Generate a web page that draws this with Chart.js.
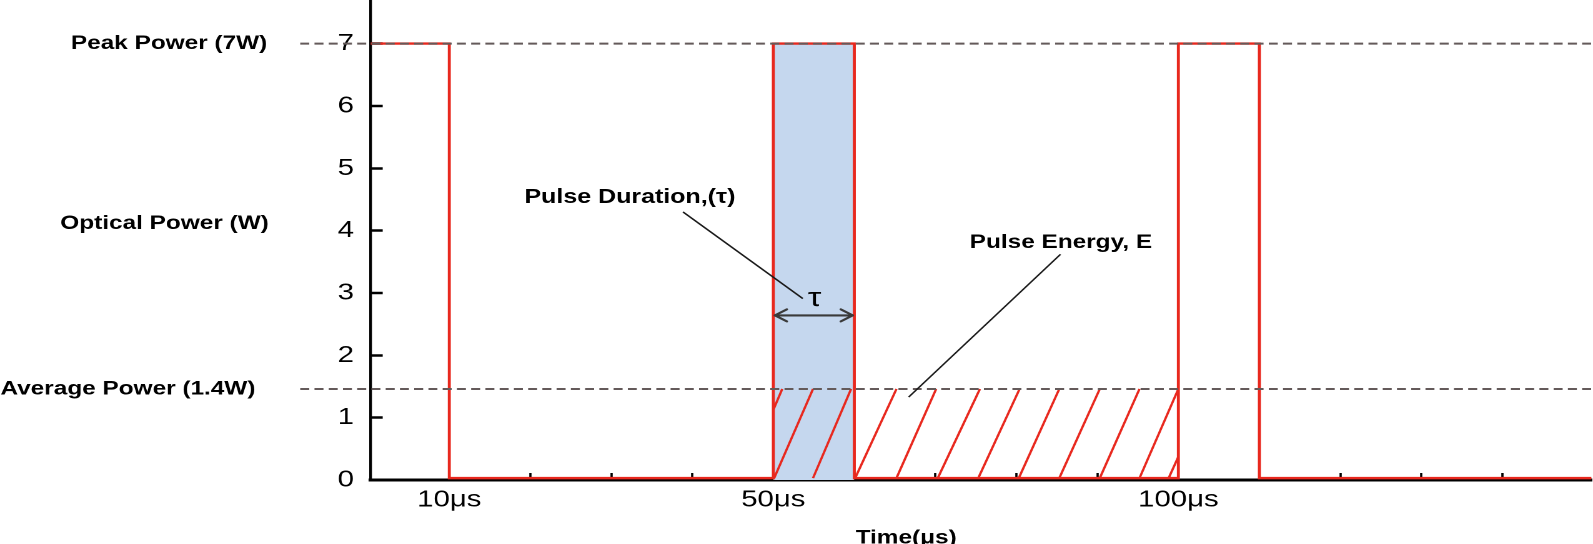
<!DOCTYPE html>
<html>
<head>
<meta charset="utf-8">
<script src="https://cdn.jsdelivr.net/npm/chart.js@4.4.1/dist/chart.umd.min.js"></script>
<style>
html,body{margin:0;padding:0;background:#fff;overflow:hidden;width:1593px;height:544px}
#wrap{position:absolute;left:0;top:0;width:1275px;height:544px;transform:scaleX(1.249412);transform-origin:0 0}
</style>
</head>
<body>
<div id="wrap"><canvas id="c"></canvas></div>
<script>
// ---- data ----
const pulseTimes = [0, 10, 10, 50, 50, 60, 60, 100, 100, 110, 110, 151];
const pulsePower = [7, 7, 0.03, 0.03, 7, 7, 0.03, 0.03, 7, 7, 0.03, 0.03];
const peakPower = 7;
const averagePower = 1.46;
const refLineTimes = [-8.4, 151];
const shadedPulseTimes = [50, 60];
const hatchBottomTimes = [46.4, 50.1, 54.9, 60.1, 65.2, 70.3, 75.3, 80.3, 85.3, 90.3, 95.2, 98.8];
const hatchTopTimes    = [51.1, 54.9, 59.6, 65.2, 70.1, 75.5, 80.4, 85.3, 90.3, 95.2, 100.0, 103.8];
const hatchSpan = [50, 100];
const yTickValues = [0, 1, 2, 3, 4, 5, 6, 7];
const xTickValues = [10, 20, 30, 40, 50, 60, 70, 80, 90, 100, 110, 120, 130, 140];
const xLabelValues = [10, 50, 100];
const xLabelTexts = ['10μs', '50μs', '100μs'];
const tauArrowTimes = [50.2, 59.8];
const tauArrowPower = 2.64;

const FONT = '"Liberation Sans", Arial, Helvetica, sans-serif';
const RED = '#e8281e';
const BLUE = '#c5d7ee';
const DASH = '#645a5a';

const datasets = [];
// reference dashed lines (on top)
datasets.push({
  data: refLineTimes.map(t => ({x: t, y: peakPower})),
  borderColor: DASH, borderWidth: 2, borderDash: [7.2, 4.2], clip: false, order: 0
});
datasets.push({
  data: refLineTimes.map(t => ({x: t, y: averagePower})),
  borderColor: DASH, borderWidth: 2, borderDash: [7.2, 4.2], clip: false, order: 0
});
// pulse train
datasets.push({
  data: pulseTimes.map((t, i) => ({x: t, y: pulsePower[i]})),
  borderColor: RED, borderWidth: 2.4, order: 1
});
// hatch lines (pulse energy)
hatchBottomTimes.forEach((t, i) => {
  datasets.push({
    data: [{x: t, y: 0.03}, {x: hatchTopTimes[i], y: averagePower}],
    borderColor: RED, borderWidth: 1.9, order: 2, hatch: true
  });
});
// shaded pulse
datasets.push({
  data: shadedPulseTimes.map(t => ({x: t, y: peakPower})),
  borderWidth: 0, borderColor: 'rgba(0,0,0,0)', backgroundColor: BLUE, fill: 'origin', order: 3
});
datasets.forEach(d => { d.pointRadius = 0; d.pointHoverRadius = 0; d.showLine = true; d.tension = 0; });

const overlay = {
  id: 'overlay',
  beforeDatasetDraw(chart, args) {
    const ds = chart.data.datasets[args.index];
    if (!ds.hatch) return;
    const {x} = chart.scales; const ctx = chart.ctx; const a = chart.chartArea;
    const l = x.getPixelForValue(hatchSpan[0]), r = x.getPixelForValue(hatchSpan[1]);
    ctx.save(); ctx.beginPath(); ctx.rect(l, a.top, r - l, a.bottom - a.top); ctx.clip();
  },
  afterDatasetDraw(chart, args) {
    if (chart.data.datasets[args.index].hatch) chart.ctx.restore();
  },
  afterDraw(chart) {
    const ctx = chart.ctx; const {x, y} = chart.scales;
    const px = v => x.getPixelForValue(v), py = v => y.getPixelForValue(v);
    ctx.save();
    ctx.fillStyle = '#000';
    const bold = 'bold 19.5px ' + FONT;
    const text = (s, X, Y, font, align, base) => {
      ctx.font = font; ctx.textAlign = align || 'center'; ctx.textBaseline = base || 'middle';
      ctx.fillText(s, X, Y);
    };
    // left side labels
    text('Peak Power (7W)', 135.3, py(peakPower), bold);
    text('Optical Power (W)', 131.7, py(4.11), bold);
    text('Average Power (1.4W)', 102.4, py(averagePower), bold);
    // axis title
    text('Time(μs)', px(66.4), chart.height - 0.5, bold, 'center', 'alphabetic');
    // annotations
    text('Pulse Duration,(τ)', px(32.3), py(4.53), 'bold 20px ' + FONT);
    text('Pulse Energy, E', px(85.5), py(3.81), bold);
    text('τ', px(55.1), py(2.79), '27px ' + FONT, 'center', 'alphabetic');
    // leader lines
    ctx.strokeStyle = '#1a1a1a'; ctx.lineWidth = 1.4;
    ctx.beginPath(); ctx.moveTo(px(38.85), py(4.30)); ctx.lineTo(px(53.64), py(2.91)); ctx.stroke();
    ctx.beginPath(); ctx.moveTo(px(85.45), py(3.62)); ctx.lineTo(px(66.71), py(1.33)); ctx.stroke();
    // double arrow
    const ax0 = px(tauArrowTimes[0]), ax1 = px(tauArrowTimes[1]), ay = py(tauArrowPower);
    ctx.strokeStyle = '#3a3a3a'; ctx.lineWidth = 2.1; ctx.lineCap = 'round'; ctx.lineJoin = 'round';
    ctx.beginPath(); ctx.moveTo(ax0, ay); ctx.lineTo(ax1, ay); ctx.stroke();
    ctx.beginPath();
    ctx.moveTo(ax0 + 9.5, ay - 6); ctx.lineTo(ax0, ay); ctx.lineTo(ax0 + 9.5, ay + 6);
    ctx.moveTo(ax1 - 9.5, ay - 6); ctx.lineTo(ax1, ay); ctx.lineTo(ax1 - 9.5, ay + 6);
    ctx.stroke();
    ctx.restore();
  }
};

new Chart(document.getElementById('c'), {
  type: 'scatter',
  data: {datasets},
  plugins: [overlay],
  options: {
    responsive: true, maintainAspectRatio: false, animation: false,
    devicePixelRatio: 2,
    layout: {padding: 0},
    plugins: {legend: {display: false}, tooltip: {enabled: false}},
    scales: {
      x: {
        type: 'linear', min: 0.3, max: 151,
        afterBuildTicks(s) { s.ticks = xTickValues.map(v => ({value: v})); },
        afterFit(s) { s.height = 64; s.paddingLeft = 0; s.paddingRight = 0; },
        border: {display: true, color: '#000', width: 3},
        grid: {drawOnChartArea: false, drawTicks: true, tickLength: -7, tickColor: '#000', tickWidth: 1.8},
        ticks: {
          autoSkip: false, maxRotation: 0, minRotation: 0, padding: 12.9, color: '#000',
          font: {family: FONT, size: 23.5},
          callback: v => { const i = xLabelValues.indexOf(v); return i >= 0 ? xLabelTexts[i] : ''; }
        }
      },
      y: {
        type: 'linear', min: 0, max: 7.68,
        afterBuildTicks(s) { s.ticks = yTickValues.map(v => ({value: v})); },
        afterFit(s) { s.width = 296.7; s.paddingTop = 0; s.paddingBottom = 0; },
        border: {display: true, color: '#000', width: 2.2},
        grid: {drawOnChartArea: false, drawTicks: true, tickLength: -9.6, tickColor: '#000', tickWidth: 2.5},
        ticks: {padding: 23, color: '#000', font: {family: FONT, size: 23.5}}
      }
    }
  }
});
</script>
</body>
</html>
